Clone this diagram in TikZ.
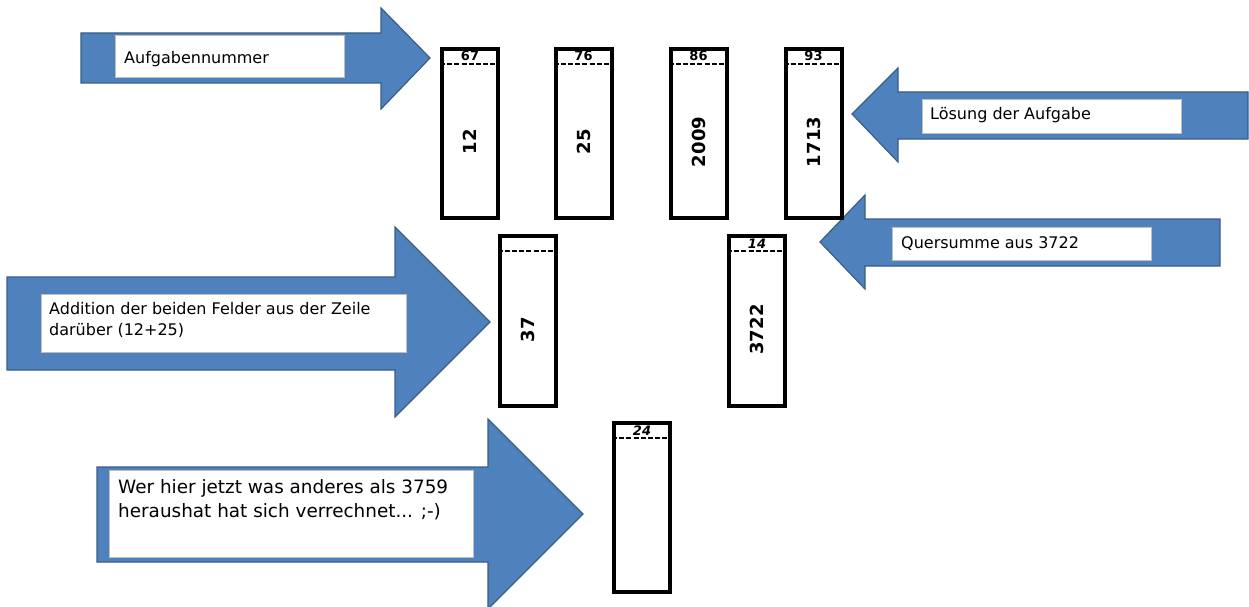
\documentclass[tikz,border=0pt]{standalone}
\usepackage{fontspec}
\setmainfont{DejaVu Sans}
\usetikzlibrary{calc}
\definecolor{arrfill}{HTML}{4F81BD}
\definecolor{arrline}{HTML}{385D8A}
\definecolor{tbline}{HTML}{BFBFBF}
\tikzset{
  bigarrow/.style={fill=arrfill, draw=arrline, line width=1.2pt, line join=miter},
  labelbox/.style={draw=tbline, fill=white, line width=0.9pt, inner sep=0pt, anchor=north west},
  labeltext/.style={inner sep=0pt, anchor=base west, font=\fontsize{16}{21}\selectfont},
  labeltextml/.style={inner sep=0pt, anchor=north west, align=left},
  field/.style={draw, line width=4pt, minimum width=56pt, minimum height=169.5pt, inner sep=0pt},
  sepline/.style={line width=2.3pt, dash pattern=on 5pt off 2.2pt},
  headlabel/.style={font=\bfseries\fontsize{13}{14}\selectfont, inner sep=0pt},
  numlabel/.style={font=\bfseries\fontsize{18}{20}\selectfont, rotate=90, inner sep=0pt}
}
\newcommand\mkfield[5]{%
  \node[field] (#1) at (#2,#3) {};
  \draw[sepline] ($(#1.north west)+(0,17)$) coordinate (#1dl) -- ($(#1.north east)+(0,17)$) coordinate (#1dr);
  \node[headlabel] (#1h) at ($(#1.north)+(0,9.5)$) {#4};
  \node[numlabel] (#1n) at ($(#1.center)+(0,8.5)$) {#5};
}
\begin{document}
\begin{tikzpicture}[x=1pt,y=-1pt]
\useasboundingbox (0,0) rectangle (1249,607);

% arrows
\draw[bigarrow] (81,33) -- (381,33) -- (381,8) -- (430,58) -- (381,109) -- (381,83) -- (81,83) -- cycle;
\draw[bigarrow] (852,114) -- (898,68) -- (898,92) -- (1248,92) -- (1248,139) -- (898,139) -- (898,162) -- cycle;
\draw[bigarrow] (820,242) -- (865,195) -- (865,219) -- (1220,219) -- (1220,266) -- (865,266) -- (865,289) -- cycle;
\draw[bigarrow] (7,277) -- (395,277) -- (395,227) -- (490,322) -- (395,417) -- (395,370) -- (7,370) -- cycle;
\draw[bigarrow] (97,467) -- (488,467) -- (488,419) -- (583,514) -- (488,609) -- (488,562) -- (97,562) -- cycle;

% text boxes
\node[labelbox, minimum width=229pt, minimum height=42pt] (t1) at (115,35) {};
\node[labeltext] (l1) at (124,64) {Aufgabennummer};
\node[labelbox, minimum width=259pt, minimum height=34pt] (t2) at (922,99) {};
\node[labeltext] (l2) at (930,120) {Lösung der Aufgabe};
\node[labelbox, minimum width=259pt, minimum height=33pt] (t3) at (892,227) {};
\node[labeltext] (l3) at (901,248.5) {Quersumme aus 3722};
\node[labelbox, minimum width=365pt, minimum height=58pt] (t4) at (41,294) {};
\node[labeltextml, font=\fontsize{16}{21}\selectfont] (l4) at (49,302) {Addition der beiden Felder aus der Zeile\\darüber (12+25)};
\node[labelbox, minimum width=364pt, minimum height=87pt] (t5) at (109,470) {};
\node[labeltextml, font=\fontsize{18.4}{24}\selectfont] (l5) at (118,479) {Wer hier jetzt was anderes als 3759\\heraushat hat sich verrechnet... ;-)};

% fields
\mkfield{f1}{470}{133.5}{67}{12}
\mkfield{f2}{583.5}{133.5}{76}{25}
\mkfield{f3}{698.5}{133.5}{86}{2009}
\mkfield{f4}{813.5}{133.5}{93}{1713}
\mkfield{f5}{527.5}{321}{}{37}
\mkfield{f6}{757}{321}{\itshape 14}{3722}
\mkfield{f7}{642}{507.5}{\itshape 24}{}
\end{tikzpicture}
\end{document}
